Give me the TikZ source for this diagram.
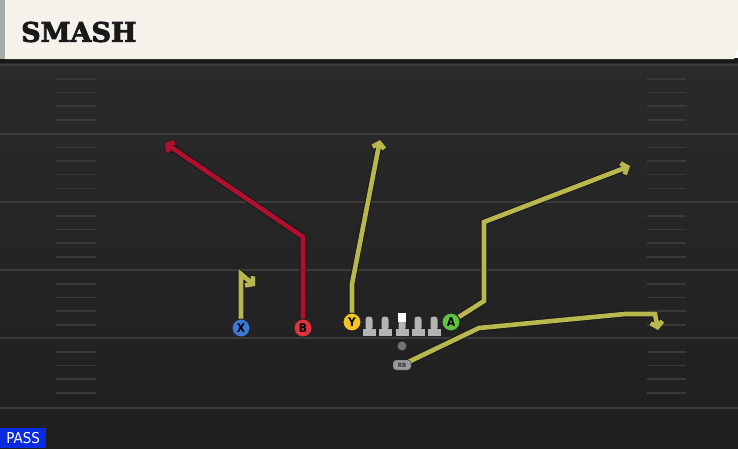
\documentclass[tikz,border=0pt]{standalone}
\usepackage{fontspec}
\setsansfont{DejaVu Sans}
\newfontfamily\titlefont[BoldFont={DejaVu Serif Bold}, BoldFeatures={FakeBold=3}]{DejaVu Serif}
\newfontfamily\condfont{DejaVu Sans Condensed}
\usetikzlibrary{arrows.meta}

\definecolor{fieldtop}{HTML}{2A2A2A}
\definecolor{fieldbot}{HTML}{1F1F1F}
\definecolor{fieldline}{HTML}{3B3B3B}
\definecolor{hashline}{HTML}{393939}
\definecolor{cream}{HTML}{F5F2EC}
\definecolor{edgegrey}{HTML}{A9ABA8}
\definecolor{routeyel}{HTML}{B9B84E}
\definecolor{routered}{HTML}{B0102E}
\definecolor{xblue}{HTML}{3C78D8}
\definecolor{bred}{HTML}{E2323F}
\definecolor{yyel}{HTML}{F2C421}
\definecolor{agreen}{HTML}{5FC43F}
\definecolor{linegrey}{HTML}{B4B4B4}
\definecolor{passblue}{HTML}{0A2BE0}

\pgfdeclarelayer{field}
\pgfdeclarelayer{routes}
\pgfsetlayers{field,routes,main}

% one lineman: #1 name, #2 x position
\newcommand{\lineman}[2]{%
  \fill[linegrey] (#2-6.5,329) rectangle (#2+6.5,335.5);
  \node[stem] (#1) at (#2,323.5) {};
}

\tikzset{
  player/.style={circle, draw=black!85, line width=1pt, minimum size=18pt, inner sep=0pt,
    font=\condfont\bfseries\fontsize{12}{12}\selectfont},
  stem/.style={fill=linegrey, rounded corners=3pt, minimum width=7pt, minimum height=14pt, inner sep=0pt},
  route/.style={line width=4.6pt, line join=miter, preaction={draw=black!90, line width=6.6pt},
    -{Straight Barb[length=5pt, width=12pt]}},
}

\begin{document}
\begin{tikzpicture}[x=1pt, y=-1pt]
  \useasboundingbox (0,0) rectangle (738,448);

  \begin{pgfonlayer}{field}
    % field and yard lines
    \shade[top color=fieldtop, bottom color=fieldbot] (0,59) rectangle (738,448);
    \fill[black!90] (0,58) rectangle (738,63);
    \foreach \y in {65,133.5,202,270,338,408}
      \draw[fieldline, line width=2pt] (0,\y) -- (738,\y);
    \foreach \y in {65,133.5,202,270,338}
      \foreach \d in {14,27.5,41,55} {
        \draw[hashline, line width=1.8pt] (56,\y+\d) -- (96,\y+\d);
        \draw[hashline, line width=1.8pt] (647,\y+\d) -- (686,\y+\d);
      }
    % title bar
    \fill[edgegrey] (0,0) rectangle (5,59);
    \fill[cream] (5,0) -- (738,0) -- (738,49) -- (734,59) -- (5,59) -- cycle;
  \end{pgfonlayer}

  \node[anchor=west, inner sep=0pt,
    font=\titlefont\bfseries\fontsize{27}{27}\selectfont, text=black!90] (title) at (21,32) {SMASH};

  % players
  \node[player, fill=xblue] (X) at (241,328) {X};
  \node[player, fill=bred] (B) at (303,328) {B};
  \node[player, fill=yyel] (Y) at (352,322) {Y};
  \node[player, fill=agreen] (A) at (451,322) {A};

  % line
  \lineman{lt}{369}
  \lineman{lg}{385}
  \lineman{c}{402}
  \lineman{rg}{418}
  \lineman{rt}{434}
  \node[fill=white, minimum width=8pt, minimum height=9pt, inner sep=0pt] (chead) at (402,317.5) {};

  \node[circle, fill=black!55, minimum size=9pt, inner sep=0pt] (qb) at (402,346) {};
  \node[fill=black!40, draw=black!80, rounded corners=3pt, minimum width=18pt, minimum height=10pt,
    inner sep=0pt, font=\condfont\bfseries\fontsize{6}{6}\selectfont, text=black!80] (RB) at (402,365) {RB};

  % route points
  \coordinate (x1) at (241,274);
  \coordinate (x2) at (255,286);
  \coordinate (b1) at (303,237);
  \coordinate (b2) at (165,143);
  \coordinate (y1) at (352,284);
  \coordinate (y2) at (380,140);
  \coordinate (a1) at (484,301);
  \coordinate (a2) at (484,222);
  \coordinate (a3) at (630,166);
  \coordinate (r1) at (479,328);
  \coordinate (r2) at (625,314);
  \coordinate (r3) at (655,314);
  \coordinate (r4) at (658,330);

  \begin{pgfonlayer}{routes}
    \draw[route, routeyel] (X.center) -- (x1) -- (x2);
    \draw[route, routered] (B.center) -- (b1) -- (b2);
    \draw[route, routeyel] (Y.center) -- (y1) -- (y2);
    \draw[route, routeyel] (A.center) -- (a1) -- (a2) -- (a3);
    \draw[route, routeyel] (RB.center) -- (r1) -- (r2) -- (r3) -- (r4);
  \end{pgfonlayer}

  \node[anchor=south west, fill=passblue, text=white, inner sep=0pt, minimum width=46pt, minimum height=20pt,
    font=\condfont\fontsize{15}{15}\selectfont] (pass) at (0,448) {PASS};
\end{tikzpicture}
\end{document}
